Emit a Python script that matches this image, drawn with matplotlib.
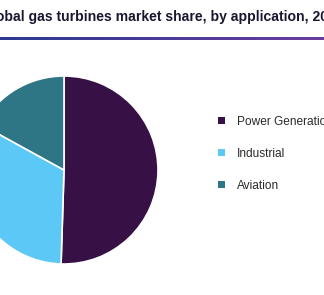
import matplotlib
matplotlib.use("Agg")
import matplotlib.pyplot as plt
import numpy as np
from matplotlib.colors import LinearSegmentedColormap

categories = ["Power Generation", "Industrial", "Aviation"]
shares = [50.5, 32.5, 17.0]
colors = ["#371146", "#5bc8f5", "#2e7585"]
title = "Global gas turbines market share, by application, 2021 (%)"

W, H = 324, 295
fig = plt.figure(figsize=(W / 100, H / 100), dpi=100)
plt.rcParams['font.family'] = ['Liberation Sans', 'DejaVu Sans']

# title
fig.text(175 / W, 1 - 17.5 / H, title, ha="center", va="center",
         fontsize=10.1, fontweight="bold", color="#1c1530")

# gradient rule under title
lax = fig.add_axes([0, 1 - 40 / H, 1, 3 / H])
cmap = LinearSegmentedColormap.from_list("g", ["#2c3a8f", "#4a3b98", "#6b3d9e"])
lax.imshow(np.linspace(0, 1, 256)[None, :], aspect="auto", cmap=cmap)
lax.set_axis_off()

# pie
cx, cy, r = 64, 170, 94
ax = fig.add_axes([(cx - r) / W, 1 - (cy + r) / H, 2 * r / W, 2 * r / H])
wedges, _ = ax.pie(shares, colors=colors, startangle=90, counterclock=False,
                   wedgeprops=dict(edgecolor="white", linewidth=1.2))
ax.set_xlim(-1, 1)
ax.set_ylim(-1, 1)
ax.set_aspect("auto")

leg = fig.legend(wedges, categories, loc="upper left",
                 bbox_to_anchor=(207 / W, 1 - 105 / H), frameon=False,
                 fontsize=8.6, labelspacing=1.68, handlelength=0.6,
                 handleheight=0.6, handletextpad=1.0, labelcolor="#2a2a2a")
for h in leg.legend_handles:
    h.set_edgecolor("none")

fig.savefig("out.png", dpi=100)
